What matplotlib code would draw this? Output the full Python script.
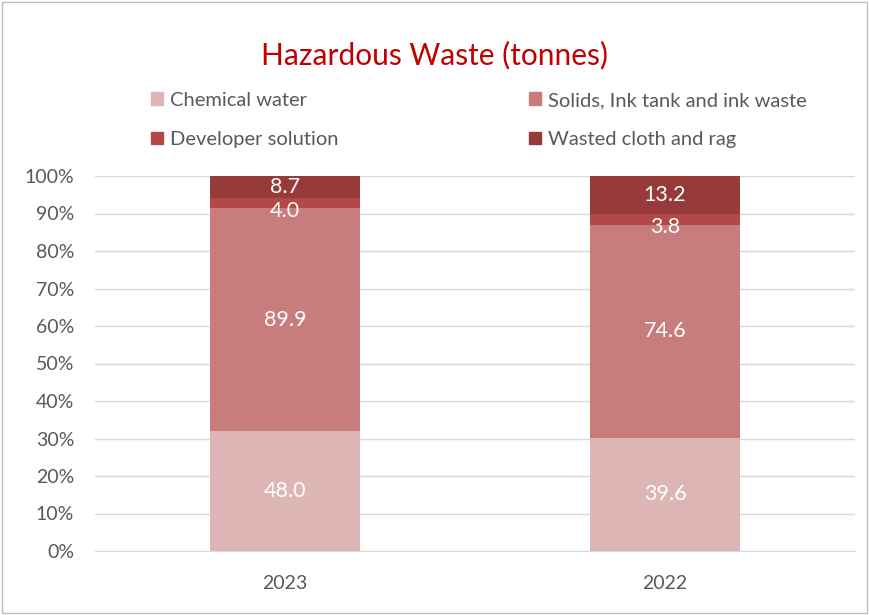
import matplotlib.pyplot as plt
from matplotlib.patches import Patch, Rectangle
from matplotlib.ticker import PercentFormatter

plt.rcParams['font.family'] = ['Lato', 'DejaVu Sans']

# data (tonnes)
years = ["2023", "2022"]
chemical_water = [48.0, 39.6]
solids_ink = [89.9, 74.6]
developer = [4.0, 3.8]
cloth_rag = [8.7, 13.2]

series_names = ["Chemical water", "Solids, Ink tank and ink waste",
                "Developer solution", "Wasted cloth and rag"]
series = [chemical_water, solids_ink, developer, cloth_rag]
colors = ["#DDB5B5", "#C97C7C", "#B24848", "#963A3A"]
# small labels get nudged down a bit, as in the original
label_shift = [0, 0, -2.2, 0]

totals = [sum(s[i] for s in series) for i in range(len(years))]

fig = plt.figure(figsize=(8.7, 6.15), dpi=100)
ax = fig.add_axes([95/870, 1 - 551/615, 760/870, 375/615])

x = range(len(years))
bottoms = [0.0] * len(years)
for name, vals, col, sh in zip(series_names, series, colors, label_shift):
    pct = [v / t * 100 for v, t in zip(vals, totals)]
    ax.bar(x, pct, width=0.395, bottom=bottoms, color=col, label=name, zorder=2)
    for i, (p, v) in enumerate(zip(pct, vals)):
        ax.text(i, bottoms[i] + p / 2 + sh, f"{v:.1f}", ha="center", va="center",
                color="white", fontsize=15.5, zorder=3)
    bottoms = [b + p for b, p in zip(bottoms, pct)]

ax.set_xlim(-0.5, 1.5)
ax.set_ylim(0, 100)
ax.set_xticks(list(x))
ax.set_xticklabels(years)
ax.set_yticks(range(0, 101, 10))
ax.yaxis.set_major_formatter(PercentFormatter(decimals=0))
ax.tick_params(axis="both", length=0, labelsize=14, colors="#595959")
ax.tick_params(axis="y", pad=15)
ax.tick_params(axis="x", pad=17)
ax.grid(axis="y", color="#D9D9D9", linewidth=1, zorder=0)
for side in ["top", "right", "left"]:
    ax.spines[side].set_visible(False)
ax.spines["bottom"].set_color("#D9D9D9")

fig.text(435/870, 1 - 55/615, "Hazardous Waste (tonnes)", ha="center", va="center",
         color="#C00000", fontsize=21.5)

handles = [Patch(color=c, label=n) for n, c in zip(series_names, colors)]
# row-major order like the original legend
handles = [handles[0], handles[2], handles[1], handles[3]]
fig.legend(handles=handles, loc="upper left", ncol=2, mode="expand",
           bbox_to_anchor=(133/870, 1 - 80/615, 692/870, 0.01),
           frameon=False, fontsize=14.5, handlelength=0.6, handleheight=0.6,
           handletextpad=0.35, labelspacing=1.1, labelcolor="#595959")

fig.patches.append(Rectangle((0.002, 0.003), 0.995, 0.994, transform=fig.transFigure,
                             fill=False, edgecolor="#BFBFBF", linewidth=1))

fig.savefig("out.png", dpi=100)
